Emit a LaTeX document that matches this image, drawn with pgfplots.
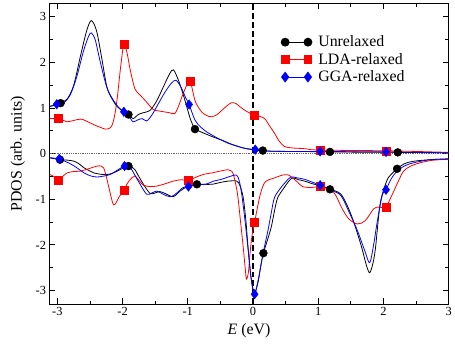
\documentclass[border=0pt]{standalone}
\usepackage{fontspec}
\setmainfont{Liberation Serif}
\usepackage{pgfplots}
\pgfplotsset{compat=1.18}
\pgfplotsset{twomark/.style={legend image code/.code={\draw[##1] plot coordinates {(0pt,0pt) (23pt,0pt)}; \path (31pt,0pt);}}}
\begin{document}
\begin{tikzpicture}
\begin{axis}[
  scale only axis, width=402.7pt, height=303.7pt,
  xmin=-3.12, xmax=3, ymin=-3.3, ymax=3.3,
  xtick={-3,-2,-1,0,1,2,3}, ytick={-3,-2,-1,0,1,2,3},
  minor tick num=1,
  tick align=inside, major tick length=6pt, minor tick length=3.5pt,
  every tick/.style={black, line width=0.9pt},
  axis line style={line width=1.1pt},
  /pgf/number format/assume math mode=true,
  ticklabel style={font=\fontsize{12.5}{14}\selectfont},
  xlabel={\textit{E} (eV)}, ylabel={PDOS (arb. units)},
  label style={font=\fontsize{16}{19}\selectfont},
  xlabel style={at={(axis description cs:0.5,-0.099)}, anchor=base},
  ylabel style={at={(axis description cs:-0.0795,0.5)}, anchor=center},
  legend style={draw=none, fill=none, at={(axis description cs:0.5775,0.902)}, anchor=north west,
    font=\fontsize{16}{19}\selectfont, row sep=1pt, inner sep=1pt},
  legend cell align=left,
  clip=true,
]
\addlegendimage{black, line width=0.9pt, mark=*, mark size=4pt, twomark}
\addlegendentry{Unrelaxed}
\addlegendimage{red, line width=0.9pt, mark=square*, mark size=4pt, twomark}
\addlegendentry{LDA-relaxed}
\addlegendimage{blue, line width=0.9pt, mark=diamond*, mark size=4.8pt, twomark}
\addlegendentry{GGA-relaxed}

\addplot[gray!80!black, densely dotted, line width=0.8pt, forget plot] coordinates {(-3.12,0) (3,0)};
\addplot[black, line width=1.3pt, dash pattern=on 6pt off 3pt, forget plot] coordinates {(0,-3.3) (0,3.3)};

% Unrelaxed up
\addplot[black, line width=0.8pt, smooth, tension=0.5, forget plot] coordinates {
(-3.12,1.04) (-3.0,1.08) (-2.95,1.11) (-2.85,1.2) (-2.75,1.5) (-2.64,2.18) (-2.55,2.7) (-2.48,2.92) (-2.40,2.7) (-2.32,2.1) (-2.24,1.46) (-2.16,1.2) (-2.08,1.03) (-1.98,0.92) (-1.91,0.86) (-1.84,0.77) (-1.76,0.86) (-1.68,0.90) (-1.58,0.95) (-1.48,1.15) (-1.38,1.45) (-1.28,1.75) (-1.22,1.84) (-1.14,1.6) (-1.06,1.25) (-1.0,0.95) (-0.95,0.72) (-0.89,0.55) (-0.8,0.48) (-0.7,0.42) (-0.6,0.36) (-0.48,0.30) (-0.35,0.22) (-0.23,0.16) (-0.1,0.11) (0,0.09) (0.15,0.07) (0.3,0.055) (0.6,0.05) (1.0,0.045) (1.18,0.04) (1.6,0.035) (2.22,0.03) (2.6,0.025) (3.0,0.02)};
% Unrelaxed down
\addplot[black, line width=0.8pt, smooth, tension=0.5, forget plot] coordinates {
(-3.12,-0.09) (-2.96,-0.13) (-2.85,-0.14) (-2.74,-0.165) (-2.66,-0.23) (-2.59,-0.31) (-2.5,-0.38) (-2.44,-0.42) (-2.34,-0.45) (-2.24,-0.455) (-2.16,-0.43) (-2.08,-0.38) (-2.0,-0.32) (-1.91,-0.27) (-1.85,-0.3) (-1.81,-0.35) (-1.75,-0.5) (-1.68,-0.67) (-1.58,-0.87) (-1.50,-0.86) (-1.43,-0.83) (-1.35,-0.87) (-1.28,-0.92) (-1.22,-0.94) (-1.17,-0.89) (-1.12,-0.82) (-1.02,-0.73) (-0.86,-0.67) (-0.75,-0.67) (-0.63,-0.67) (-0.5,-0.63) (-0.38,-0.6) (-0.25,-0.6) (-0.2,-0.7) (-0.15,-0.96) (-0.11,-1.45) (-0.076,-2.05) (-0.04,-2.6) (0.0,-3.0) (0.03,-3.05) (0.08,-2.8) (0.12,-2.45) (0.16,-2.18) (0.22,-1.9) (0.28,-1.61) (0.33,-1.25) (0.38,-0.96) (0.48,-0.74) (0.55,-0.6) (0.61,-0.53) (0.7,-0.57) (0.79,-0.6) (0.94,-0.67) (1.05,-0.7) (1.18,-0.78) (1.35,-0.89) (1.5,-1.32) (1.65,-1.97) (1.74,-2.45) (1.79,-2.61) (1.84,-2.4) (1.88,-2.05) (1.95,-1.1) (2.05,-0.6) (2.12,-0.45) (2.21,-0.33) (2.32,-0.22) (2.46,-0.165) (2.72,-0.13) (3.0,-0.11)};
\addplot[black, only marks, mark=*, mark size=4pt, forget plot] coordinates {
(-2.95,1.11) (-1.91,0.86) (-0.89,0.54) (0.15,0.07) (1.18,0.04) (2.22,0.03)
(-2.96,-0.13) (-1.91,-0.27) (-0.86,-0.67) (0.16,-2.18) (1.18,-0.78) (2.21,-0.33)};

% LDA up
\addplot[red, line width=0.8pt, smooth, tension=0.5, forget plot] coordinates {
(-3.12,0.77) (-2.99,0.77) (-2.92,0.74) (-2.85,0.70) (-2.75,0.73) (-2.64,0.76) (-2.56,0.72) (-2.49,0.67) (-2.38,0.6) (-2.26,0.54) (-2.2,0.56) (-2.16,0.63) (-2.12,0.85) (-2.08,1.24) (-2.03,1.9) (-1.98,2.40) (-1.93,2.2) (-1.88,1.82) (-1.81,1.42) (-1.74,1.30) (-1.68,1.21) (-1.6,1.08) (-1.53,0.97) (-1.45,0.94) (-1.37,0.92) (-1.28,0.9) (-1.2,0.88) (-1.14,1.05) (-1.07,1.32) (-0.97,1.59) (-0.89,1.17) (-0.82,0.98) (-0.76,0.88) (-0.68,0.82) (-0.63,0.81) (-0.55,0.86) (-0.48,0.95) (-0.4,1.05) (-0.33,1.12) (-0.26,1.1) (-0.2,1.03) (-0.1,0.93) (0.015,0.85) (0.1,0.82) (0.18,0.77) (0.25,0.62) (0.33,0.45) (0.4,0.28) (0.48,0.16) (0.58,0.13) (0.68,0.12) (0.8,0.11) (0.89,0.09) (1.03,0.08) (1.3,0.075) (1.6,0.07) (2.04,0.065) (2.5,0.05) (3,0.03)};
% LDA down
\addplot[red, line width=0.8pt, smooth, tension=0.5, forget plot] coordinates {
(-3.12,-0.455) (-3.05,-0.5) (-2.99,-0.58) (-2.92,-0.5) (-2.85,-0.42) (-2.75,-0.39) (-2.64,-0.38) (-2.5,-0.32) (-2.39,-0.27) (-2.33,-0.27) (-2.29,-0.31) (-2.25,-0.5) (-2.21,-0.74) (-2.17,-0.98) (-2.14,-1.12) (-2.1,-1.08) (-2.06,-0.96) (-1.98,-0.80) (-1.93,-0.66) (-1.88,-0.56) (-1.81,-0.49) (-1.74,-0.6) (-1.68,-0.69) (-1.58,-0.72) (-1.48,-0.71) (-1.35,-0.66) (-1.22,-0.6) (-1.1,-0.57) (-0.99,-0.58) (-0.85,-0.5) (-0.75,-0.45) (-0.63,-0.42) (-0.5,-0.38) (-0.38,-0.35) (-0.33,-0.38) (-0.3,-0.455) (-0.26,-0.7) (-0.23,-0.96) (-0.19,-1.5) (-0.15,-2.05) (-0.12,-2.5) (-0.1,-2.75) (-0.07,-2.6) (-0.05,-2.26) (-0.02,-1.85) (0.025,-1.50) (0.1,-0.96) (0.15,-0.72) (0.2,-0.6) (0.33,-0.53) (0.45,-0.47) (0.53,-0.46) (0.6,-0.52) (0.68,-0.62) (0.76,-0.72) (0.89,-0.74) (1.03,-0.72) (1.15,-0.77) (1.24,-0.85) (1.3,-1.0) (1.37,-1.21) (1.47,-1.43) (1.6,-1.54) (1.72,-1.47) (1.85,-1.21) (1.92,-1.17) (1.98,-1.18) (2.04,-1.18) (2.1,-1.0) (2.16,-0.82) (2.23,-0.6) (2.31,-0.38) (2.42,-0.27) (2.56,-0.2) (2.72,-0.15) (2.87,-0.13) (3,-0.12)};
\addplot[red, only marks, mark=square*, mark size=4pt, forget plot] coordinates {
(-2.99,0.77) (-1.98,2.40) (-0.97,1.59) (0.015,0.85) (1.03,0.08) (2.04,0.065)
(-2.99,-0.58) (-1.98,-0.80) (-0.99,-0.58) (0.025,-1.50) (1.03,-0.72) (2.04,-1.18)};

% GGA up
\addplot[blue, line width=0.8pt, smooth, tension=0.5, forget plot] coordinates {
(-3.12,1.03) (-3.01,1.085) (-2.9,1.12) (-2.8,1.3) (-2.7,1.7) (-2.6,2.25) (-2.52,2.58) (-2.48,2.65) (-2.42,2.5) (-2.34,2.0) (-2.24,1.45) (-2.14,1.17) (-2.05,1.0) (-1.98,0.92) (-1.90,0.82) (-1.84,0.70) (-1.77,0.74) (-1.70,0.77) (-1.63,0.72) (-1.55,0.85) (-1.45,1.1) (-1.35,1.35) (-1.25,1.55) (-1.18,1.61) (-1.10,1.45) (-1.03,1.22) (-0.98,1.08) (-0.89,0.74) (-0.8,0.58) (-0.7,0.47) (-0.63,0.41) (-0.5,0.31) (-0.38,0.23) (-0.25,0.17) (-0.13,0.12) (0.035,0.09) (0.2,0.06) (0.5,0.05) (1.03,0.05) (1.5,0.045) (2.04,0.04) (2.5,0.03) (3,0.02)};
% GGA down
\addplot[blue, line width=0.8pt, smooth, tension=0.5, forget plot] coordinates {
(-3.12,-0.085) (-2.97,-0.115) (-2.86,-0.18) (-2.74,-0.27) (-2.59,-0.42) (-2.48,-0.49) (-2.39,-0.51) (-2.29,-0.49) (-2.19,-0.455) (-2.08,-0.36) (-1.97,-0.27) (-1.91,-0.29) (-1.86,-0.35) (-1.8,-0.5) (-1.73,-0.67) (-1.63,-0.89) (-1.55,-0.86) (-1.48,-0.82) (-1.4,-0.87) (-1.33,-0.92) (-1.25,-0.94) (-1.16,-0.85) (-1.07,-0.74) (-0.99,-0.72) (-0.86,-0.68) (-0.73,-0.67) (-0.6,-0.6) (-0.48,-0.56) (-0.36,-0.5) (-0.25,-0.47) (-0.21,-0.6) (-0.18,-0.82) (-0.14,-1.25) (-0.1,-1.76) (-0.06,-2.3) (-0.025,-2.77) (0.025,-3.08) (0.06,-2.9) (0.1,-2.62) (0.16,-2.15) (0.23,-1.68) (0.28,-1.3) (0.33,-0.96) (0.43,-0.74) (0.5,-0.62) (0.58,-0.51) (0.68,-0.53) (0.79,-0.56) (0.94,-0.64) (1.03,-0.69) (1.2,-0.8) (1.35,-0.92) (1.48,-1.3) (1.6,-1.68) (1.72,-2.15) (1.79,-2.39) (1.85,-2.0) (1.9,-1.54) (1.98,-0.92) (2.04,-0.79) (2.12,-0.55) (2.21,-0.38) (2.32,-0.27) (2.46,-0.2) (2.72,-0.13) (3,-0.12)};
\addplot[blue, only marks, mark=diamond*, mark size=4.8pt, forget plot] coordinates {
(-3.01,1.085) (-1.98,0.92) (-0.98,1.08) (0.035,0.09) (1.03,0.05) (2.04,0.04)
(-2.97,-0.115) (-1.97,-0.27) (-0.99,-0.72) (0.025,-3.08) (1.03,-0.69) (2.04,-0.79)};
\end{axis}
\path (current axis.south west) ++(-50pt,-44pt) coordinate (bbA);
\path (current axis.north east) ++(2.3pt,3.3pt) coordinate (bbB);
\path (bbA) rectangle (bbB);
\end{tikzpicture}
\end{document}
